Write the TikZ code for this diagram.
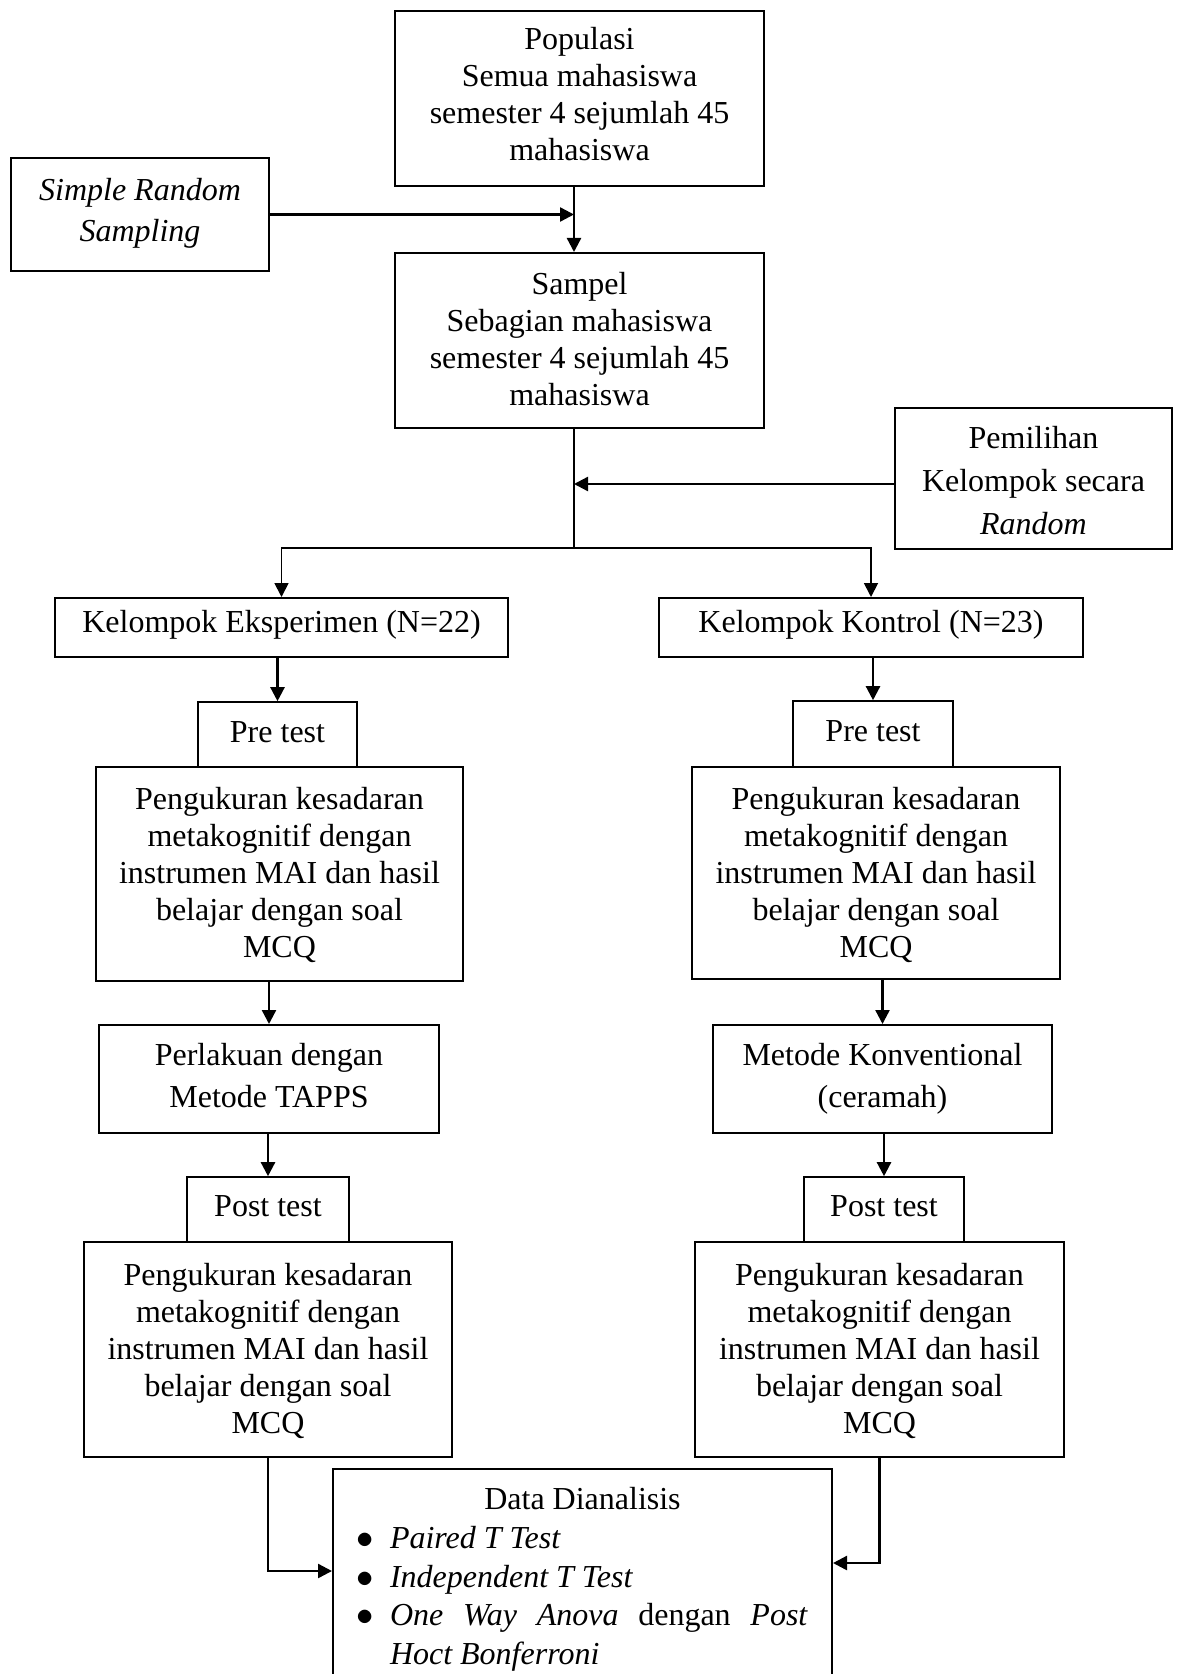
\documentclass[tikz,border=0pt]{standalone}
\usepackage{fontspec}
\setmainfont{Liberation Serif}
\usetikzlibrary{arrows.meta,fit}
\setlength{\parindent}{0pt}
\begin{document}
\begin{tikzpicture}[x=0.5pt,y=-0.5pt,
  box/.style={draw, line width=1pt, inner sep=0pt},
  thinbox/.style={box, line width=0.8pt},
  txt/.style={inner sep=0pt, align=center, font=\fontsize{16}{18.5}\selectfont},
  tip/.style={-{Triangle[length=7pt,width=7pt]}},
  arr/.style={line width=1.2pt, tip},
  link/.style={line width=0.9pt}]
\useasboundingbox (0,0) rectangle (1178,1674);
\clip (0,0) rectangle (1178,1674);
\fill[white] (0,0) rectangle (1178,1674);

% boxes
\node[box, fit={(395,11) (764,186)}] (pop) {};
\node[box, fit={(11,158) (269,271)}] (srs) {};
\node[box, fit={(395,253) (764,428)}] (sam) {};
\node[box, fit={(895,408) (1172,549)}] (pem) {};
\node[box, fit={(55,598) (508,657)}] (eks) {};
\node[box, fit={(659,598) (1083,657)}] (kon) {};
\node[thinbox, fit={(198,702) (357,767)}] (preL) {};
\node[box, fit={(96,767) (463,981)}] (pengLa) {};
\node[box, fit={(99,1025) (439,1133)}] (perl) {};
\node[thinbox, fit={(187,1177) (349,1242)}] (postL) {};
\node[box, fit={(84,1242) (452,1457)}] (pengLb) {};
\node[thinbox, fit={(793,701) (953,767)}] (preR) {};
\node[box, fit={(692,767) (1060,979)}] (pengRa) {};
\node[box, fit={(713,1025) (1052,1133)}] (met) {};
\node[thinbox, fit={(804,1177) (964,1242)}] (postR) {};
\node[box, fit={(695,1242) (1064,1457)}] (pengRb) {};
\node[box, fit={(333,1469) (832,1682)}] (data) {};

% texts
\node[txt] (popT) at ([yshift=2.2pt]pop.center) {Populasi\\Semua mahasiswa\\semester 4 sejumlah 45\\mahasiswa};
\node[txt] (srsT) at ([yshift=0.6pt]srs.center) {\textit{Simple Random}\\[2pt]\textit{Sampling}};
\node[txt] (samT) at ([yshift=0.8pt]sam.center) {Sampel\\Sebagian mahasiswa\\semester 4 sejumlah 45\\mahasiswa};
\node[txt] (pemT) at ([yshift=-1.1pt]pem.center) {Pemilihan\\[3pt]Kelompok secara\\[3pt]\textit{Random}};
\node[txt] (eksT) at ([yshift=1.1pt]eks.center) {Kelompok Eksperimen (N=22)};
\node[txt] (konT) at ([yshift=1.1pt]kon.center) {Kelompok Kontrol (N=23)};
\node[txt] (preLT) at ([yshift=1.1pt]preL.center) {Pre test};
\node[txt] (pengLaT) at ([yshift=-0.5pt]pengLa.center) {Pengukuran kesadaran\\metakognitif dengan\\instrumen MAI dan hasil\\belajar dengan soal\\MCQ};
\node[txt] (perlT) at ([yshift=1.6pt]perl.center) {Perlakuan dengan\\[2.4pt]Metode TAPPS};
\node[txt] (postLT) at ([yshift=1.6pt]postL.center) {Post test};
\node[txt] (pengLbT) at ([yshift=-0.5pt]pengLb.center) {Pengukuran kesadaran\\metakognitif dengan\\instrumen MAI dan hasil\\belajar dengan soal\\MCQ};
\node[txt] (preRT) at ([yshift=1.6pt]preR.center) {Pre test};
\node[txt] (pengRaT) at ([yshift=-0.8pt]pengRa.center) {Pengukuran kesadaran\\metakognitif dengan\\instrumen MAI dan hasil\\belajar dengan soal\\MCQ};
\node[txt] (metT) at ([yshift=0.3pt]met.center) {Metode Konventional\\[2.4pt](ceramah)};
\node[txt] (postRT) at ([yshift=1.6pt]postR.center) {Post test};
\node[txt] (pengRbT) at ([yshift=-0.5pt]pengRb.center) {Pengukuran kesadaran\\metakognitif dengan\\instrumen MAI dan hasil\\belajar dengan soal\\MCQ};
\node[txt, text width=249.5pt, align=flush left, font=\fontsize{16}{19.4}\selectfont]
  (dataT) at ([yshift=-1.9pt]data.center) {%
\makebox[249.5pt][c]{Data Dianalisis}\par
\hspace*{11.5pt}\makebox[17pt][l]{$\bullet$}\textit{Paired T Test}\par
\hspace*{11.5pt}\makebox[17pt][l]{$\bullet$}\textit{Independent T Test}\par
\hspace*{11.5pt}\makebox[17pt][l]{$\bullet$}\makebox[209pt][l]{\textit{One}\hfill\textit{Way}\hfill\textit{Anova}\hfill dengan\hfill\textit{Post}}\par
\hspace*{28.5pt}\textit{Hoct Bonferroni}\par};

% connectors
\coordinate (trunk) at (574,0);
\coordinate (br) at (0,548);
\coordinate (pemy) at (0,484);
\coordinate (jl) at (0,1571);
\coordinate (jr) at (0,1563);

\draw[arr] (pop.south -| trunk) -- (sam.north -| trunk);
\draw[arr] (srs.east) -- (srs.east -| trunk);
\draw[link] (sam.south -| trunk) -- (trunk |- br);
\draw[arr] (pem.west |- pemy) -- (trunk |- pemy);
\draw[link, tip] (trunk |- br) -| (eks.north);
\draw[link, tip] (trunk |- br) -| (kon.north);

\draw[arr] (eks.south -| preL.north) -- (preL.north);
\draw[arr] (pengLa.south -| perl.north) -- (perl.north);
\draw[arr] (perl.south -| postL.north) -- (postL.north);

\draw[arr] (kon.south -| preR.north) -- (preR.north);
\draw[arr] (pengRa.south -| met.north) -- (met.north);
\draw[arr] (met.south -| postR.north) -- (postR.north);

\draw[arr] (pengLb.south) |- (data.west |- jl);
\draw[arr] (pengRb.south) |- (data.east |- jr);
\end{tikzpicture}
\end{document}
